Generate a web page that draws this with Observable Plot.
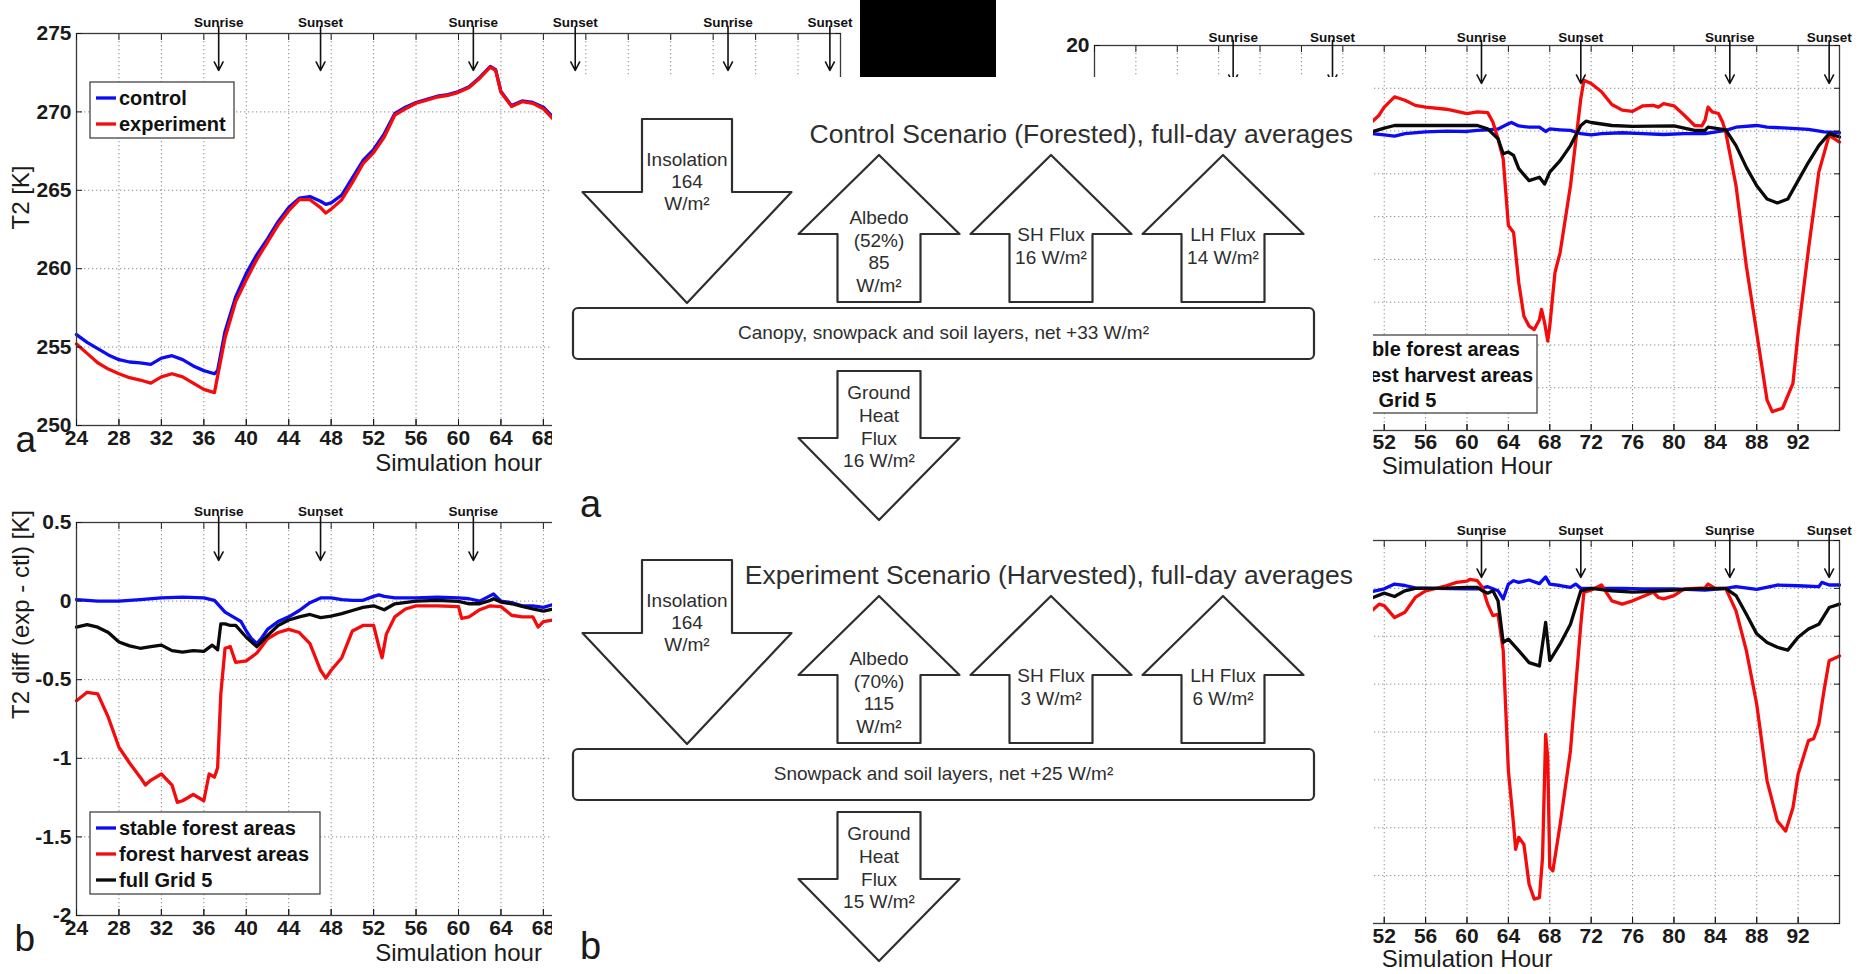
<!DOCTYPE html>
<html><head><meta charset="utf-8">
<script src="https://cdn.jsdelivr.net/npm/d3@7"></script>
<script src="https://cdn.jsdelivr.net/npm/@observablehq/plot@0.6"></script>
<style>
html,body{margin:0;padding:0;background:#fff;}
#page{position:relative;width:1860px;height:974px;overflow:hidden;background:#fff;font-family:"Liberation Sans",Arial,sans-serif;}
</style></head><body><div id="page"></div>
<script>
// ---------- data ----------
const hourTicks = [24,28,32,36,40,44,48,52,56,60,64,68,72,76,80,84,88,92];
const t2Ticks = [250,255,260,265,270,275];
const diffTicks = [-2,-1.5,-1,-0.5,0,0.5];
const fluxTopTicks = [-70,-60,-50,-40,-30,-20,-10,0,10,20];
const fluxBotTicks = [-70,-60,-50,-40,-30,-20,-10,0,10];
const sunHours = [37.4,47,61.4,71,85.4,95];
const sunLabels = ["Sunrise","Sunset","Sunrise","Sunset","Sunrise","Sunset"];
const t2Names = ["control","experiment"];
const diffNames = ["stable forest areas","forest harvest areas","full Grid 5"];

const t2Control = [[24,255.8],[25,255.3],[26,254.9],[27,254.5],[28,254.2],[29,254.05],[30,254.0],[31,253.9],[32,254.3],[33,254.45],[34,254.2],[35,253.8],[36,253.5],[37,253.3],[37.3,253.5],[38,256.0],[39,258.2],[40,259.7],[41,260.9],[42,261.9],[43,263.0],[44,263.9],[45,264.5],[46,264.6],[47,264.3],[47.5,264.1],[48,264.2],[49,264.7],[50,265.8],[51,266.9],[52,267.6],[53,268.6],[54,269.9],[55,270.3],[56,270.6],[57,270.8],[58,271.0],[59,271.1],[60,271.3],[61,271.6],[62,272.2],[63,272.9],[63.5,272.7],[64,271.3],[65,270.4],[66,270.7],[67,270.6],[68,270.3],[69,269.6]];
const t2Experiment = [[24,255.2],[25,254.6],[26,254.0],[27,253.6],[28,253.3],[29,253.05],[30,252.9],[31,252.7],[32,253.1],[33,253.3],[34,253.1],[35,252.7],[36,252.3],[37,252.1],[37.4,253.5],[38,255.6],[39,257.9],[40,259.3],[41,260.6],[42,261.7],[43,262.8],[44,263.7],[45,264.4],[46,264.4],[47,263.9],[47.5,263.55],[48,263.8],[49,264.4],[50,265.5],[51,266.7],[52,267.4],[53,268.4],[54,269.8],[55,270.2],[56,270.55],[57,270.75],[58,270.95],[59,271.05],[60,271.25],[61,271.55],[62,272.15],[63,272.85],[63.5,272.65],[64,271.25],[65,270.35],[66,270.65],[67,270.55],[68,270.2],[69,269.5]];

const diffStable = [[24,0.01],[26,0.0],[28,0.0],[30,0.01],[32,0.02],[34,0.025],[36,0.02],[37,0.005],[38,-0.07],[39,-0.11],[39.5,-0.13],[40,-0.19],[40.5,-0.24],[41,-0.27],[41.5,-0.23],[42,-0.18],[43,-0.13],[44,-0.1],[45,-0.06],[46,-0.01],[47,0.02],[48,0.02],[49,0.01],[50,0.005],[51,0.005],[52,0.03],[52.5,0.04],[53,0.03],[54,0.02],[56,0.02],[58,0.025],[60,0.02],[61,0.015],[62,0.0],[63,0.035],[63.3,0.045],[64,0.0],[65,-0.01],[66,-0.03],[67,-0.03],[68,-0.04],[69,-0.02]];
const diffHarvest = [[24,-0.634],[25,-0.58],[26,-0.59],[27,-0.74],[28,-0.93],[29,-1.03],[30,-1.12],[30.5,-1.17],[31,-1.14],[32,-1.10],[33,-1.17],[33.5,-1.28],[34,-1.27],[35,-1.23],[36,-1.27],[36.5,-1.10],[37,-1.12],[37.3,-1.06],[37.6,-0.59],[38,-0.30],[38.5,-0.29],[39,-0.39],[40,-0.38],[41,-0.33],[42,-0.24],[43,-0.2],[44,-0.18],[45,-0.2],[46,-0.27],[47,-0.44],[47.5,-0.49],[48,-0.44],[49,-0.36],[50,-0.19],[51,-0.155],[52,-0.155],[52.5,-0.29],[52.8,-0.36],[53.2,-0.21],[54,-0.10],[55,-0.05],[56,-0.03],[58,-0.03],[60,-0.035],[60.3,-0.11],[61,-0.10],[62,-0.055],[63,-0.03],[64,-0.035],[65,-0.09],[66,-0.10],[67,-0.10],[67.5,-0.165],[68,-0.13],[69,-0.12]];
const diffGrid = [[24,-0.166],[25,-0.15],[26,-0.166],[27,-0.2],[28,-0.26],[29,-0.285],[30,-0.30],[31,-0.29],[32,-0.28],[33,-0.315],[34,-0.325],[35,-0.315],[36,-0.32],[36.8,-0.28],[37.3,-0.31],[37.6,-0.145],[38,-0.145],[38.5,-0.155],[39,-0.155],[40,-0.23],[41,-0.29],[42,-0.22],[43,-0.155],[44,-0.12],[45,-0.1],[46,-0.085],[47,-0.105],[48,-0.095],[49,-0.08],[50,-0.06],[51,-0.04],[52,-0.03],[53,-0.055],[54,-0.017],[56,0.0],[58,0.005],[60,-0.002],[61,-0.017],[62,-0.017],[63,0.005],[63.3,0.015],[64,-0.006],[65,-0.017],[66,-0.034],[67,-0.05],[68,-0.064],[69,-0.05]];

const topStable = [[50.8,-0.6],[52,-0.9],[53,-1.2],[54,-0.6],[56,-0.2],[58,0],[60,-0.1],[61,0.15],[62,0.3],[63,0.5],[64,1.7],[64.3,2],[65,1.2],[66,0.9],[67,0.9],[67.6,-0.1],[68,0.5],[69,0.3],[70,0.15],[71,-0.6],[72,-0.9],[73,-0.6],[75,-0.4],[77,-0.6],[79,-0.8],[81,-0.6],[83,-0.6],[85,0.15],[86,0.9],[88,1.3],[89,0.9],[91,0.7],[93,0.4],[94.5,-0.2],[96,-0.4]];
const topHarvest = [[50.8,2.1],[51.5,3.7],[52,5.6],[53,8.0],[53.5,7.6],[54,7.2],[55,6.0],[56,5.6],[58,5.1],[60,4.1],[61,4.5],[62,4.3],[62.5,2.1],[63,-1.8],[63.5,-6.5],[64,-22.1],[64.5,-23.7],[65,-35.4],[65.5,-43.3],[66,-45.6],[66.5,-46.4],[67,-44.1],[67.2,-41.7],[67.5,-44.8],[67.8,-49.1],[68,-45.6],[68.5,-33.1],[69,-28.4],[70,-12.8],[70.5,-2.6],[71,7.6],[71.3,11.9],[72,11.1],[73,9.2],[74,6.2],[75,4.9],[76,4.6],[77,5.9],[78,6.0],[78.5,5.6],[79,6.4],[80,5.9],[81,3.7],[82,1.3],[82.7,1.2],[83,2.5],[83.3,5.6],[83.7,4.5],[84.3,4.1],[84.7,2.1],[85,-0.2],[86,-12.8],[87,-31.6],[88,-47.2],[89,-62.9],[89.5,-65.6],[90.5,-64.8],[91.5,-59],[92,-47.2],[93,-27.7],[94,-9.6],[95,-1.0],[96,-2.6]];
const topGrid = [[50.8,-0.2],[52,0.7],[53,1.3],[56,1.3],[60,1.3],[61,1.3],[62,0.5],[63,-1.8],[63.5,-5.3],[64,-4.9],[64.5,-5.7],[65,-8.8],[66,-11.6],[67,-10.8],[67.5,-12.4],[68,-9.6],[69,-6.9],[70,-3.4],[71,1.3],[71.5,2.3],[72,2.0],[74,1.3],[76,1.1],[80,1.2],[82,0.15],[83,0.15],[83.3,0.9],[85,0.3],[86,-3.4],[87,-8.5],[88,-12.8],[89,-15.9],[90,-16.8],[91,-15.9],[92,-11.6],[93,-7.3],[94,-3.4],[95,-0.6],[96,-1.4]];

const botStable = [[50.8,-0.7],[52,-0.1],[53,0.9],[54,0.6],[55,0.1],[57,0],[60,-0.1],[61,-0.1],[62,0.35],[63,-0.5],[63.5,-2.2],[64,0.9],[64.5,1.6],[65,1.25],[66,1.75],[67,1.0],[67.6,2.4],[68,0.9],[69,0.6],[70,0.2],[70.5,0.9],[71,0],[73,0],[75,0],[77,-0.1],[80,-0.1],[83,-0.35],[85,0],[86,0.35],[88,-0.2],[90,0.7],[92,0.55],[94,0.35],[94.3,1.25],[95,0.7],[96,0.7]];
const botHarvest = [[50.8,-4.7],[51.5,-3.3],[52,-3.6],[53,-6.1],[54,-5.0],[55,-1.9],[56,-0.5],[57,0],[58,0.55],[59,1.25],[60,1.5],[60.3,1.9],[61,1.6],[61.5,0.2],[62,-3.3],[62.5,-5.7],[63,-5.4],[63.5,-13],[64,-38.1],[64.5,-49.3],[64.7,-54.5],[65,-52.0],[65.5,-53.5],[66,-61.8],[66.5,-64.9],[67,-64.6],[67.3,-56.2],[67.6,-30.5],[67.8,-35.3],[68,-58.3],[68.3,-59],[69,-49.3],[70,-33.9],[71,-7.5],[71.3,-0.8],[72,-0.35],[73,0.7],[74,-2.6],[75,-3.3],[76,-2.6],[77,-1.7],[78,-0.8],[78.5,-1.9],[79,-2.2],[80,-1.5],[81,-0.1],[82,0],[83,0.1],[83.3,0.9],[84,0],[85,0],[86,-4.7],[87,-13],[88,-24.2],[89,-40.2],[90,-48.6],[90.8,-50.7],[91.5,-45.8],[92,-38.8],[93,-31.8],[93.5,-31.4],[94,-28.4],[94.5,-21.4],[95,-15.1],[96,-14.1]];
const botGrid = [[50.8,-2.0],[52,-1.0],[53,-1.7],[54,-0.5],[55,0],[58,0.05],[60,0.2],[61,0.2],[61.5,-0.5],[62,-1.0],[62.5,-0.5],[63,-2.6],[63.5,-11.3],[64,-10.6],[65,-13],[66,-15.5],[67,-16.2],[67.6,-7.1],[68,-15.1],[69,-11.6],[70,-7.5],[71,-0.5],[72,0],[74,-0.5],[76,-0.8],[78,-0.6],[80,-0.35],[82,-0.1],[85,0],[86,-1.5],[87,-5.4],[88,-9.5],[89,-11.3],[90,-12.3],[91,-12.9],[92,-10.2],[93,-8.5],[94,-7.5],[95,-4.0],[96,-3.3]];

// diagram values
const scenarioTitles = ["Control Scenario (Forested), full-day averages","Experiment Scenario (Harvested), full-day averages"];
const insolation = [164,164];
const albedoPct = [52,70];
const albedoFlux = [85,115];
const shFlux = [16,3];
const lhFlux = [14,6];
const groundFlux = [16,15];
const layerNames = ["Canopy, snowpack and soil layers","Snowpack and soil layers"];
const netFlux = [33,25];
const panelLetters = ["a","b"];

// ---------- drawing ----------
const page = document.getElementById("page");
const BLUE = "#0b0bf5", RED = "#f50b0b", BLACK = "#0a0a0a";
const FONT = "'Liberation Sans', Arial, Helvetica, sans-serif";
const sun = sunHours.map((h,i)=>({hour:h,label:sunLabels[i]}));
// the overlaid diagram hides part of each chart: only texts that stay visible are drawn
const DIAGRAM_LEFT = 552, DIAGRAM_RIGHT = 1373;

function chart(cfg){
  const {left,top,width,height,mt,mr,mb,ml,yDomain,yTicks,yLabelTicks,series,xLabel,yLabel,letter,sunDy,arrowTop,arrowBot,xPad,xLabelDy,xShown,sunShown} = cfg;
  const plotH = height-mt-mb;
  const k = (yDomain[1]-yDomain[0])/plotH;
  const yMax = yDomain[1];
  const grid = {stroke:"#8c8c8c",strokeOpacity:1,strokeWidth:1,strokeDasharray:"1.3,2.7"};
  const marks = [
    Plot.gridX(hourTicks,grid),
    Plot.gridY(yTicks,grid),
    ...series.map(s=>Plot.line(s.data,{x:d=>d[0],y:d=>d[1],stroke:s.color,strokeWidth:3.3,strokeLinejoin:"round",strokeLinecap:"round"})),
    Plot.frame({stroke:"#3a3a3a",strokeWidth:1.3}),
    Plot.axisX(hourTicks,{anchor:"bottom",tickSize:-6,label:null,tickFormat:()=>""}),
    Plot.axisX(hourTicks.filter(xShown),{anchor:"bottom",tickSize:-6,tickPadding:xPad,label:null,fontSize:21,fontWeight:"bold",tickFormat:d=>String(d)}),
    Plot.axisX(hourTicks,{anchor:"top",tickSize:-6,label:null,tickFormat:()=>""}),
    Plot.axisY(yTicks,{anchor:"left",tickSize:-6,label:null,tickFormat:()=>""}),
    Plot.axisY(yTicks,{anchor:"right",tickSize:-6,label:null,tickFormat:()=>""}),
    Plot.arrow(sun,{x1:"hour",x2:"hour",y1:()=>yMax+arrowTop*k,y2:()=>yMax-arrowBot*k,stroke:"#111",strokeWidth:1.6,headLength:9,headAngle:55}),
    Plot.text(sun.filter(sunShown),{x:"hour",text:"label",frameAnchor:"top",dy:sunDy,fontSize:13.5,fontWeight:"bold",fill:"#111"})
  ];
  if (yLabelTicks.length) marks.push(Plot.axisY(yLabelTicks,{anchor:"left",tickSize:0,tickPadding:5,label:null,fontSize:21,fontWeight:"bold",tickFormat:d=>String(d)}));
  if (xLabel) marks.push(Plot.text([xLabel],{text:d=>d,frameAnchor:"bottom",dy:xLabelDy,fontSize:24,fill:"#1a1a1a"}));
  if (yLabel) marks.push(Plot.text([yLabel],{text:d=>d,frameAnchor:"left",dx:-55,rotate:-90,fontSize:24,fill:"#1a1a1a"}));
  if (letter) marks.push(Plot.text([letter.t],{text:d=>d,frameAnchor:"bottom-left",dx:letter.dx,dy:letter.dy,textAnchor:"start",fontSize:letter.fs,fill:"#1a1a1a"}));
  const svg = Plot.plot({width,height,marginTop:mt,marginRight:mr,marginBottom:mb,marginLeft:ml,
    x:{domain:[24,96]},y:{domain:yDomain},
    style:{background:"transparent",fontFamily:FONT,color:"#1a1a1a",overflow:"visible"},marks});
  svg.style.position="absolute"; svg.style.left=left+"px"; svg.style.top=top+"px"; svg.style.maxWidth="none";
  page.appendChild(svg);
}

// top-left
chart({left:0,top:0,width:850,height:480,mt:33,mr:10,mb:55,ml:76,yDomain:[250,275],yTicks:t2Ticks,yLabelTicks:t2Ticks,
  series:[{data:t2Control,color:BLUE},{data:t2Experiment,color:RED}],
  xLabel:"Simulation hour",yLabel:"T2 [K]",letter:{t:"a",dx:-61,dy:26,fs:37},sunDy:-16,arrowTop:7,arrowBot:37,
  xPad:11,xLabelDy:45,xShown:h=>h<=68,sunShown:()=>true});
// bottom-left
chart({left:0,top:480,width:850,height:494,mt:42,mr:10,mb:59,ml:76,yDomain:[-2,0.5],yTicks:diffTicks,yLabelTicks:diffTicks,
  series:[{data:diffStable,color:BLUE},{data:diffHarvest,color:RED},{data:diffGrid,color:BLACK}],
  xLabel:"Simulation hour",yLabel:"T2 diff (exp - ctl) [K]",letter:{t:"b",dx:-62,dy:35,fs:37},sunDy:-16,arrowTop:6,arrowBot:38,
  xPad:11,xLabelDy:45,xShown:h=>h<=68,sunShown:d=>d.hour<66});
// top-right
chart({left:1000,top:0,width:860,height:490,mt:45,mr:21,mb:60,ml:94,yDomain:[-70,20],yTicks:fluxTopTicks,yLabelTicks:[20],
  series:[{data:topStable,color:BLUE},{data:topHarvest,color:RED},{data:topGrid,color:BLACK}],
  xLabel:"Simulation Hour",yLabel:null,letter:null,sunDy:-13,arrowTop:5,arrowBot:38,
  xPad:10,xLabelDy:43,xShown:h=>h>=52,sunShown:()=>true});
// bottom-right
chart({left:1000,top:490,width:860,height:484,mt:50,mr:21,mb:51,ml:94,yDomain:[-70,10],yTicks:fluxBotTicks,yLabelTicks:[],
  series:[{data:botStable,color:BLUE},{data:botHarvest,color:RED},{data:botGrid,color:BLACK}],
  xLabel:"Simulation Hour",yLabel:null,letter:null,sunDy:-15,arrowTop:7,arrowBot:37,
  xPad:11,xLabelDy:43,xShown:h=>h>=52,sunShown:d=>d.hour>50});

// legends
const ov = d3.select(page).append("svg").attr("width",1860).attr("height",974)
  .style("position","absolute").style("left","0px").style("top","0px").style("pointer-events","none");
function legend(x,y,w,h,names,colors,rowYs,textX){
  ov.append("rect").attr("x",x).attr("y",y).attr("width",w).attr("height",h).attr("fill","#fff").attr("stroke","#444").attr("stroke-width",1.3);
  names.forEach((n,i)=>{
    ov.append("line").attr("x1",textX-23).attr("x2",textX-3).attr("y1",rowYs[i]).attr("y2",rowYs[i]).attr("stroke",colors[i]).attr("stroke-width",3.3);
    ov.append("text").attr("x",textX).attr("y",rowYs[i]).attr("dominant-baseline","central").attr("font-family",FONT)
      .attr("font-size",20).attr("font-weight","bold").attr("fill","#111").text(n);
  });
}
legend(90,82,144,56,t2Names,[BLUE,RED],[98,124],119);
legend(90,812,230,82,diffNames,[BLUE,RED,BLACK],[828,854,880],119);
// right legend: its left part lies under the diagram, so only the visible part is drawn
(function(){
  const cp = ov.append("clipPath").attr("id","rightLegendClip");
  cp.append("rect").attr("x",DIAGRAM_RIGHT).attr("y",0).attr("width",1860-DIAGRAM_RIGHT).attr("height",974);
  const x = 1314, y = 335, w = 223, h = 78, rowYs = [349,375,400], textX = 1343;
  const gl = ov.append("g").attr("clip-path","url(#rightLegendClip)");
  gl.append("rect").attr("x",x).attr("y",y).attr("width",w).attr("height",h).attr("fill","#fff").attr("stroke","#444").attr("stroke-width",1.3);
  const cut = [3,3,4];
  diffNames.forEach((n,i)=>{
    const t = gl.append("text").attr("x",textX).attr("y",rowYs[i]).attr("dominant-baseline","central").attr("font-family",FONT)
      .attr("font-size",20).attr("font-weight","bold").attr("fill","#111");
    t.append("tspan").attr("fill","none").text(n.slice(0,cut[i]));
    t.append("tspan").text(n.slice(cut[i]));
  });
})();

// diagram
const dg = d3.select(page).append("svg").attr("width",DIAGRAM_RIGHT-DIAGRAM_LEFT).attr("height",897)
  .style("position","absolute").style("left",DIAGRAM_LEFT+"px").style("top","77px").style("background","#fff");
const g = dg.append("g").attr("transform",`translate(${-DIAGRAM_LEFT},-77)`);
const INK = "#2e2e2e";
function downArrow(cx,top,headY,tip,sh,hh){
  return `M${cx-sh},${top}L${cx+sh},${top}L${cx+sh},${headY}L${cx+hh},${headY}L${cx},${tip}L${cx-hh},${headY}L${cx-sh},${headY}Z`;
}
function upArrow(cx,tip,headY,bottom,sh,hh){
  return `M${cx},${tip}L${cx+hh},${headY}L${cx+sh},${headY}L${cx+sh},${bottom}L${cx-sh},${bottom}L${cx-sh},${headY}L${cx-hh},${headY}Z`;
}
function shape(d){ g.append("path").attr("d",d).attr("fill","#fff").attr("stroke",INK).attr("stroke-width",2.2).attr("stroke-linejoin","round"); }
function lines(cx,ys,texts,fs){
  texts.forEach((t,i)=>g.append("text").attr("x",cx).attr("y",ys[i]).attr("text-anchor","middle").attr("dominant-baseline","central")
    .attr("font-family",FONT).attr("font-size",fs||19).attr("fill",INK).text(t));
}
const unit = "W/m²";
[0,1].forEach(i=>{
  const o = i*441;
  g.append("text").attr("x",1353).attr("y",134+o).attr("text-anchor","end").attr("dominant-baseline","central")
    .attr("font-family",FONT).attr("font-size",26.5).attr("fill",INK).text(scenarioTitles[i]);
  shape(downArrow(687,119+o,192+o,303+o,45,104.5));
  lines(687,[159+o,181+o,203+o],["Insolation",String(insolation[i]),unit]);
  shape(upArrow(879,155+o,234+o,302+o,41.5,80.5));
  lines(879,[217+o,240+o,262+o,285+o],["Albedo",`(${albedoPct[i]}%)`,String(albedoFlux[i]),unit]);
  shape(upArrow(1051,155+o,234+o,302+o,41.5,80.5));
  lines(1051,[234+o,257+o],["SH Flux",`${shFlux[i]} ${unit}`]);
  shape(upArrow(1223,155+o,234+o,302+o,41.5,80.5));
  lines(1223,[234+o,257+o],["LH Flux",`${lhFlux[i]} ${unit}`]);
  g.append("rect").attr("x",573).attr("y",308+o).attr("width",741).attr("height",51).attr("rx",5)
    .attr("fill","#fff").attr("stroke",INK).attr("stroke-width",2.2);
  lines(943.5,[332+o],[`${layerNames[i]}, net +${netFlux[i]} ${unit}`]);
  shape(downArrow(879,371+o,438+o,520+o,41.5,80.5));
  lines(879,[392+o,415+o,438+o,460+o],["Ground","Heat","Flux",`${groundFlux[i]} ${unit}`]);
  g.append("text").attr("x",580).attr("y",(i===0?517:959)).attr("font-family",FONT).attr("font-size",38).attr("fill","#1a1a1a").text(panelLetters[i]);
});

// black block
const blk = document.createElement("div");
blk.style.cssText = "position:absolute;left:860px;top:0px;width:136px;height:77px;background:#000;";
page.appendChild(blk);
</script></body></html>
